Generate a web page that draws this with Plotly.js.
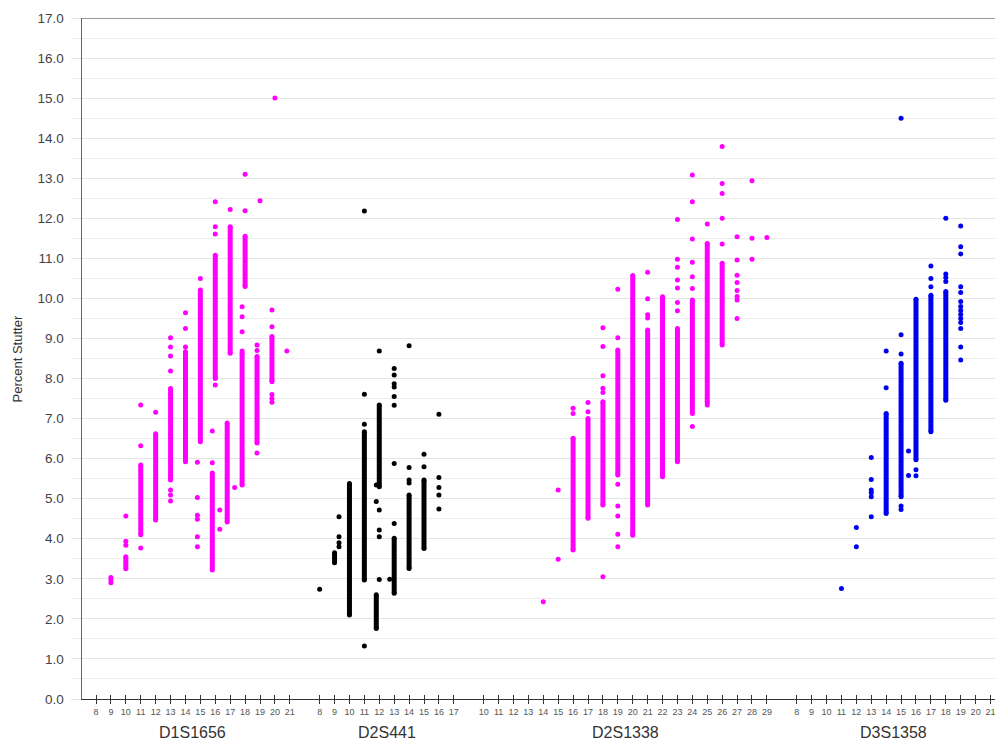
<!DOCTYPE html>
<html>
<head>
<meta charset="utf-8">
<script src="https://cdn.plot.ly/plotly-3.0.1.min.js"></script>
<style>
html,body{margin:0;padding:0;background:#fff;overflow:hidden;}
#chart{width:995px;height:740px;}
</style>
</head>
<body>
<div id="chart"></div>
<script>
// ---------------- DATA ----------------
const loci = ['D1S1656', 'D2S441', 'D2S1338', 'D3S1358'];

// tick labels (alleles) per locus
const d1s1656Ticks = [8, 9, 10, 11, 12, 13, 14, 15, 16, 17, 18, 19, 20, 21];
const d2s441Ticks = [8, 9, 10, 11, 12, 13, 14, 15, 16, 17];
const d2s1338Ticks = [10, 11, 12, 13, 14, 15, 16, 17, 18, 19, 20, 21, 22, 23, 24, 25, 26, 27, 28, 29];
const d3s1358Ticks = [8, 9, 10, 11, 12, 13, 14, 15, 16, 17, 18, 19, 20, 21];

// D1S1656 : dense runs of observations (allele, low %, high %)
const d1s1656RunAllele = [10, 11, 12, 13, 14, 15, 15.8, 16, 16.8, 17, 17.8, 18, 18.8, 19.8];
const d1s1656RunLow  = [3.25, 4.10, 4.47, 5.47, 5.92, 6.42, 3.22, 8.00, 4.42, 8.63, 5.34, 10.30, 6.39, 7.95];
const d1s1656RunHigh = [3.55, 5.84, 6.62, 7.75, 8.67, 10.21, 5.64, 11.08, 6.89, 11.79, 8.63, 11.55, 8.55, 9.05];
// D1S1656 : individual observations
const d1s1656PtAllele = [9, 10, 11, 12, 13, 14, 14.8, 15, 15.8, 16, 16.3, 17, 17.3, 17.8, 18, 18.8, 19, 19.8, 20, 20.8];
const d1s1656PtValues = [
  [2.90, 2.97, 3.03],
  [3.84, 3.94, 4.57],
  [3.77, 6.32, 7.34],
  [7.16],
  [4.94, 5.09, 5.22, 8.19, 8.56, 8.79, 9.02],
  [8.79, 9.25, 9.64],
  [3.80, 4.05, 4.49, 4.59, 5.03, 5.91],
  [10.50],
  [5.90, 6.69],
  [7.84, 11.61, 11.79, 12.41],
  [4.24, 4.72],
  [12.22],
  [5.28],
  [8.69, 9.17, 9.54, 9.79],
  [12.19, 13.10],
  [6.14, 8.70, 8.84],
  [12.44],
  [7.41, 7.50, 7.60, 7.92, 9.29, 9.71],
  [15.00],
  [8.69]
];

// D2S441
const d2s441RunAllele = [9, 10, 11, 11.8, 12, 13, 14, 15];
const d2s441RunLow  = [3.40, 2.10, 2.97, 1.76, 5.30, 2.64, 3.26, 3.76];
const d2s441RunHigh = [3.65, 5.38, 6.67, 2.60, 7.34, 4.01, 5.09, 5.47];
const d2s441PtAllele = [8, 9.3, 11, 11.8, 12, 12.7, 13, 14, 15, 16];
const d2s441PtValues = [
  [2.74],
  [3.80, 3.90, 4.05, 4.55],
  [1.32, 6.86, 7.61, 12.18],
  [4.93, 5.34],
  [2.98, 4.05, 4.22, 4.72, 8.69],
  [2.99],
  [4.38, 5.88, 7.33, 7.55, 7.79, 7.87, 8.09, 8.25],
  [5.39, 5.47, 5.78, 8.82],
  [5.80, 6.11],
  [4.74, 5.09, 5.28, 5.53, 7.11]
];

// D2S1338
const d2s1338RunAllele = [16, 17, 18, 19, 20, 21, 22, 23, 24, 25, 26];
const d2s1338RunLow  = [3.72, 4.51, 4.84, 5.59, 4.09, 4.84, 5.55, 5.92, 7.13, 7.40, 8.84];
const d2s1338RunHigh = [6.51, 7.00, 7.42, 8.71, 10.57, 9.21, 10.04, 9.25, 9.96, 11.37, 10.88];
const d2s1338PtAllele = [14, 15, 16, 17, 18, 19, 21, 23, 24, 25, 26, 27, 28, 29];
const d2s1338PtValues = [
  [2.43],
  [3.49, 5.22],
  [7.13, 7.26],
  [7.17, 7.40],
  [3.05, 7.65, 7.76, 8.07, 8.80, 9.27],
  [3.80, 4.11, 4.57, 4.82, 5.36, 9.02, 10.23],
  [9.51, 9.59, 9.99, 10.65],
  [9.69, 9.90, 10.26, 10.46, 10.78, 10.98, 11.97],
  [6.80, 10.25, 10.54, 10.90, 11.48, 12.41, 13.08],
  [7.34, 11.86],
  [11.36, 12.00, 12.62, 12.87, 13.79],
  [9.50, 9.96, 10.05, 10.20, 10.40, 10.58, 10.96, 11.54],
  [10.98, 11.50, 12.94],
  [11.52]
];

// D3S1358
const d3s1358RunAllele = [14, 15, 16, 17, 18];
const d3s1358RunLow  = [4.63, 5.05, 5.97, 6.67, 7.46];
const d3s1358RunHigh = [7.13, 8.38, 9.98, 10.08, 10.17];
const d3s1358PtAllele = [11, 12, 13, 14, 15, 15.5, 16, 17, 18, 19];
const d3s1358PtValues = [
  [2.76],
  [3.80, 4.28],
  [4.55, 5.05, 5.15, 5.22, 5.48, 6.03],
  [7.77, 8.69],
  [4.73, 4.82, 8.61, 9.09, 14.50],
  [5.58, 6.19],
  [5.57, 5.72],
  [10.29, 10.50, 10.81],
  [10.42, 10.52, 10.61, 12.00],
  [8.46, 8.79, 9.25, 9.40, 9.50, 9.60, 9.70, 9.80, 9.92, 10.15, 10.29, 11.11, 11.29, 11.81]
];

// ---------------- LAYOUT / STYLE ----------------
const slotOffset = [0, 15, 26, 47];          // first slot of each locus on the shared axis
const tickSets = [d1s1656Ticks, d2s441Ticks, d2s1338Ticks, d3s1358Ticks];
const colors = ['#ff00ff', '#000000', '#ff00ff', '#0000f0'];
const runs = [
  [d1s1656RunAllele, d1s1656RunLow, d1s1656RunHigh],
  [d2s441RunAllele, d2s441RunLow, d2s441RunHigh],
  [d2s1338RunAllele, d2s1338RunLow, d2s1338RunHigh],
  [d3s1358RunAllele, d3s1358RunLow, d3s1358RunHigh]
];
const pts = [
  [d1s1656PtAllele, d1s1656PtValues],
  [d2s441PtAllele, d2s441PtValues],
  [d2s1338PtAllele, d2s1338PtValues],
  [d3s1358PtAllele, d3s1358PtValues]
];

function pos(g, allele) { return slotOffset[g] + allele - tickSets[g][0]; }

const traces = [];
const tickvals = [], ticktext = [];
loci.forEach((name, g) => {
  tickSets[g].forEach(a => { tickvals.push(pos(g, a)); ticktext.push(String(a)); });
  // dense runs
  const rx = [], ry = [];
  const [ra, rl, rh] = runs[g];
  ra.forEach((a, i) => { const p = pos(g, a); rx.push(p, p, null); ry.push(rl[i], rh[i], null); });
  traces.push({
    type: 'scatter', mode: 'lines+markers', x: rx, y: ry, name: name,
    line: { color: colors[g], width: 5 },
    marker: { color: colors[g], size: 5 },
    hoverinfo: 'skip', showlegend: false, connectgaps: false
  });
  // single points
  const px = [], py = [];
  const [pa, pv] = pts[g];
  pa.forEach((a, i) => { pv[i].forEach(v => { px.push(pos(g, a)); py.push(v); }); });
  traces.push({
    type: 'scatter', mode: 'markers', x: px, y: py, name: name,
    marker: { color: colors[g], size: 5 },
    showlegend: false
  });
});
// invisible trace to carry the inside-tick overlay axis
traces.push({ type: 'scatter', x: [], y: [], xaxis: 'x2', yaxis: 'y', showlegend: false, hoverinfo: 'skip' });

const xRange = [-0.94, 60.3];
const annotations = loci.map((name, g) => {
  const t = tickSets[g];
  return {
    x: (pos(g, t[0]) + pos(g, t[t.length - 1])) / 2, xref: 'x',
    y: -0.049, yref: 'paper', yanchor: 'middle', xanchor: 'center',
    text: name, showarrow: false,
    font: { family: 'Liberation Sans, Arial, sans-serif', size: 16, color: '#333' }
  };
});
annotations.push({
  x: -0.0701, xref: 'paper', y: 0.5, yref: 'paper', textangle: -90,
  text: 'Percent Stutter', showarrow: false, xanchor: 'center', yanchor: 'middle',
  font: { family: 'Liberation Sans, Arial, sans-serif', size: 13, color: '#333' }
});

const layout = {
  width: 995, height: 740,
  margin: { l: 82, r: 0, t: 18, b: 41 },
  paper_bgcolor: '#fff', plot_bgcolor: '#fff',
  showlegend: false,
  xaxis: {
    range: xRange, tickmode: 'array', tickvals: tickvals, ticktext: ticktext,
    ticks: 'outside', ticklen: 4, tickcolor: '#333', tickwidth: 1,
    ticklabeloverflow: 'allow',
    showgrid: false, zeroline: false, showline: true, linecolor: '#333', linewidth: 1,
    tickfont: { family: 'Liberation Sans, Arial, sans-serif', size: 9, color: '#555' }
  },
  xaxis2: {
    overlaying: 'x', anchor: 'y', side: 'bottom', range: xRange,
    tickmode: 'array', tickvals: tickvals, ticks: 'inside', ticklen: 4, tickcolor: '#333',
    showticklabels: false, showgrid: false, zeroline: false, showline: false
  },
  yaxis: {
    range: [0, 17], dtick: 1, tick0: 0, tickformat: '.1f',
    showgrid: true, gridcolor: '#e4e4e4', gridwidth: 1,
    ticks: 'outside', ticklen: 10, tickcolor: '#e4e4e4',
    minor: { dtick: 0.5, showgrid: true, gridcolor: '#ececec', ticks: 'outside', ticklen: 10, tickcolor: '#ececec' },
    zeroline: false, showline: true, linecolor: '#666', linewidth: 1.5,
    ticklabelstandoff: 4,
    tickfont: { family: 'Liberation Sans, Arial, sans-serif', size: 13.5, color: '#444' }
  },
  shapes: [{
    type: 'line', xref: 'paper', yref: 'y', x0: 0, x1: 1, y0: 17, y1: 17,
    line: { color: '#999', width: 2 }
  }],
  annotations: annotations
};

Plotly.newPlot('chart', traces, layout, { displayModeBar: false, staticPlot: true });
</script>
</body>
</html>
